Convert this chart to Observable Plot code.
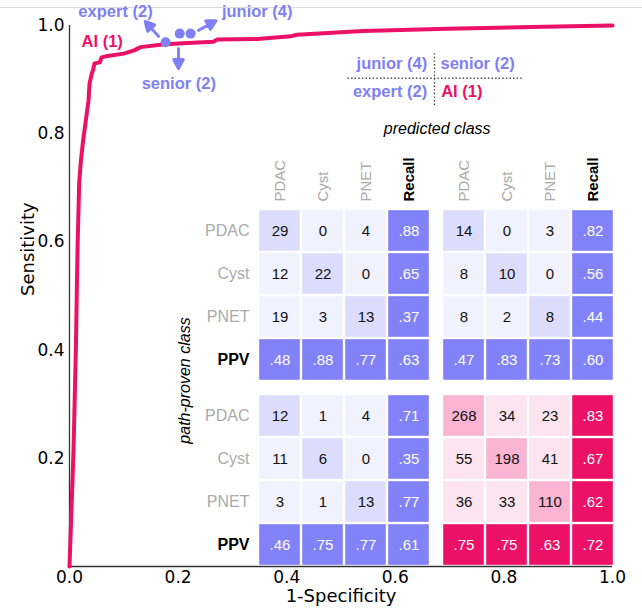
<!DOCTYPE html>
<html><head><meta charset="utf-8">
<script src="https://cdn.jsdelivr.net/npm/d3@7"></script>
<script src="https://cdn.jsdelivr.net/npm/@observablehq/plot@0.6"></script>
<style>
html,body{margin:0;padding:0;background:#fff;}
#wrap{position:relative;width:642px;height:616px;overflow:hidden;}
#wrap svg{position:absolute;left:0;top:0;}
#topline{position:absolute;left:0;top:7px;width:642px;height:0;border-top:1px solid #dadada;}
</style></head>
<body><div id="wrap"><div id="topline"></div></div>
<script>
// ---------- data ----------
const rowLabels = ["PDAC", "Cyst", "PNET", "PPV"];
const colLabels = ["PDAC", "Cyst", "PNET", "Recall"];
const groupNames = ["junior (4)", "senior (2)", "expert (2)", "AI (1)"];

const juniorCounts = [[29, 0, 4], [12, 22, 0], [19, 3, 13]];
const juniorRecall = [".88", ".65", ".37"];
const juniorPPV = [".48", ".88", ".77"];
const juniorAcc = ".63";

const seniorCounts = [[14, 0, 3], [8, 10, 0], [8, 2, 8]];
const seniorRecall = [".82", ".56", ".44"];
const seniorPPV = [".47", ".83", ".73"];
const seniorAcc = ".60";

const expertCounts = [[12, 1, 4], [11, 6, 0], [3, 1, 13]];
const expertRecall = [".71", ".35", ".77"];
const expertPPV = [".46", ".75", ".77"];
const expertAcc = ".61";

const aiCounts = [[268, 34, 23], [55, 198, 41], [36, 33, 110]];
const aiRecall = [".83", ".67", ".62"];
const aiPPV = [".75", ".75", ".63"];
const aiAcc = ".72";

// ROC curve of the AI (1-specificity, sensitivity)
const rocFPR = [0, 0.0074, 0.0117, 0.0147, 0.0178, 0.021, 0.025, 0.030, 0.035, 0.037, 0.041, 0.044, 0.046, 0.056, 0.059, 0.067, 0.100, 0.119, 0.131, 0.171, 0.208, 0.265, 0.272, 0.346, 0.407, 0.419, 0.541, 0.696, 0.849, 1.0];
const rocTPR = [0, 0.214, 0.400, 0.584, 0.708, 0.750, 0.787, 0.824, 0.861, 0.893, 0.911, 0.920, 0.930, 0.932, 0.941, 0.943, 0.948, 0.954, 0.960, 0.965, 0.967, 0.970, 0.974, 0.975, 0.980, 0.983, 0.990, 0.994, 0.997, 1.0];

// reader operating points
const readerNames = ["expert (2)", "senior (2)", "junior (4)"];
const readerFPR = [0.177, 0.203, 0.223];
const readerTPR = [0.969, 0.985, 0.985];

const xTicks = [0, 0.2, 0.4, 0.6, 0.8, 1.0];
const yTicks = [0.2, 0.4, 0.6, 0.8, 1.0];

// ---------- styles ----------
const blue = "#8080F6";
const pink = "#EC1166";
const palette = {
  reader: {diag: "#DCDCFC", off: "#F2F2FE", sum: "#8181F8"},
  ai: {diag: "#F9B4D2", off: "#FDE4EE", sum: "#EC1166"}
};
const sans = "'Liberation Sans', Arial, Helvetica, sans-serif";

// ---------- tables ----------
const matrices = [
  {name: groupNames[0], fx: 0, fy: 0, ai: false, counts: juniorCounts, recall: juniorRecall, ppv: juniorPPV, acc: juniorAcc},
  {name: groupNames[1], fx: 1, fy: 0, ai: false, counts: seniorCounts, recall: seniorRecall, ppv: seniorPPV, acc: seniorAcc},
  {name: groupNames[2], fx: 0, fy: 1, ai: false, counts: expertCounts, recall: expertRecall, ppv: expertPPV, acc: expertAcc},
  {name: groupNames[3], fx: 1, fy: 1, ai: true, counts: aiCounts, recall: aiRecall, ppv: aiPPV, acc: aiAcc}
];
const cells = [];
for (const m of matrices) {
  const base = {fx: m.fx, fy: m.fy, ai: m.ai};
  m.counts.forEach((r, i) => r.forEach((v, j) =>
    cells.push({...base, row: rowLabels[i], col: colLabels[j], label: String(v), kind: i === j ? "diag" : "off"})));
  m.recall.forEach((v, i) => cells.push({...base, row: rowLabels[i], col: "Recall", label: v, kind: "sum"}));
  m.ppv.forEach((v, j) => cells.push({...base, row: "PPV", col: colLabels[j], label: v, kind: "sum"}));
  cells.push({...base, row: "PPV", col: "Recall", label: m.acc, kind: "sum"});
}
const rocData = rocFPR.map((x, i) => ({x, y: rocTPR[i]}));
const readers = readerNames.map((name, i) => ({name, x: readerFPR[i], y: readerTPR[i]}));

// annotations (data coordinates of the ROC frame)
const arrows = [
  {x: 0.164, y: 0.980, rotate: -42},
  {x: 0.2007, y: 0.9575, rotate: 180},
  {x: 0.2376, y: 0.991, rotate: 61}
];
const pointLabels = [
  {x: 0.0847, y: 1.0246, text: "expert (2)", color: blue},
  {x: 0.3457, y: 1.0246, text: "junior (4)", color: blue},
  {x: 0.2013, y: 0.8922, text: "senior (2)", color: blue},
  {x: 0.0602, y: 0.9691, text: "AI (1)", color: pink}
];
const keyLeft = [
  {x: 0.6587, y: 0.9292, text: "junior (4)", color: blue},
  {x: 0.6587, y: 0.8767, text: "expert (2)", color: blue}
];
const keyRight = [
  {x: 0.6832, y: 0.9292, text: "senior (2)", color: blue},
  {x: 0.6845, y: 0.8767, text: "AI (1)", color: pink}
];

const filledArrow = {
  draw(context, l) {
    const h = 9, w = 4.8;
    context.moveTo(0, 0);
    context.lineTo(0, -(l - h));
    context.moveTo(-w, -(l - h));
    context.lineTo(0, -l);
    context.lineTo(w, -(l - h));
    context.closePath();
  }
};

// ---------- ROC plot ----------
const roc = Plot.plot({
  width: 642, height: 616,
  marginLeft: 69, marginRight: 30, marginTop: 25, marginBottom: 50,
  style: {fontFamily: "'DejaVu Sans', sans-serif", background: "transparent", overflow: "visible", color: "#000"},
  x: {domain: [0, 1], axis: null},
  y: {domain: [0, 1], axis: null},
  color: {type: "identity"},
  marks: [
    Plot.axisX({ticks: xTicks, tickFormat: d3.format(".1f"), tickSize: 0, tickPadding: 4, fontSize: 17, label: null, fill: "#000"}),
    Plot.axisY({ticks: yTicks, tickFormat: d3.format(".1f"), tickSize: 0, tickPadding: 5, fontSize: 17, label: null, fill: "#000"}),
    Plot.ruleX([0], {stroke: "#333", strokeWidth: 1.3}),
    Plot.ruleY([0], {stroke: "#333", strokeWidth: 1.3}),
    Plot.text(["Sensitivity"], {text: d => d, frameAnchor: "left", dx: -41, rotate: -90, fontSize: 18, fill: "#000"}),
    Plot.text(["1-Specificity"], {text: d => d, frameAnchor: "bottom", dy: 35, fontSize: 18, fill: "#000"}),
    Plot.line(rocData, {x: "x", y: "y", stroke: pink, strokeWidth: 4, strokeLinejoin: "round"}),
    Plot.dot(readers, {x: "x", y: "y", r: 5, fill: blue}),
    Plot.vector(arrows, {x: "x", y: "y", rotate: "rotate", length: 20, anchor: "start", shape: filledArrow, stroke: blue, fill: blue, strokeWidth: 3}),
    Plot.text(pointLabels, {x: "x", y: "y", text: "text", fill: "color", fontFamily: sans, fontWeight: "bold", fontSize: 16.5}),
    Plot.text(keyLeft, {x: "x", y: "y", text: "text", fill: "color", textAnchor: "end", fontFamily: sans, fontWeight: "bold", fontSize: 16.5}),
    Plot.text(keyRight, {x: "x", y: "y", text: "text", fill: "color", textAnchor: "start", fontFamily: sans, fontWeight: "bold", fontSize: 16.5}),
    Plot.link([{x1: 0.512, x2: 0.836, y1: 0.9026, y2: 0.9026}, {x1: 0.6722, x2: 0.6722, y1: 0.9488, y2: 0.8521}],
      {x1: "x1", x2: "x2", y1: "y1", y2: "y2", stroke: "#444", strokeWidth: 1.4, strokeDasharray: "1.4,2.2"}),
    Plot.text(["predicted class"], {text: d => d, x: 0.6771, y: 0.809, fontFamily: sans, fontStyle: "italic", fontSize: 16, fill: "#000"}),
    Plot.text(["path-proven class"], {text: d => d, x: 0.2118, y: 0.3438, rotate: -90, fontFamily: sans, fontStyle: "italic", fontSize: 16, fill: "#000"})
  ]
});

// ---------- confusion matrices ----------
const fillOf = d => palette[d.ai ? "ai" : "reader"][d.kind];
const heat = Plot.plot({
  width: 642, height: 616,
  marginLeft: 256, marginRight: 28, marginTop: 207, marginBottom: 49,
  style: {fontFamily: sans, background: "transparent", overflow: "visible"},
  fx: {domain: [0, 1], axis: null, paddingInner: 0.06, paddingOuter: 0},
  fy: {domain: [0, 1], axis: null, paddingInner: 0.06, paddingOuter: 0},
  x: {domain: colLabels, paddingInner: 0, paddingOuter: 0, axis: null},
  y: {domain: rowLabels, paddingInner: 0, paddingOuter: 0, axis: null},
  color: {type: "identity"},
  marks: [
    Plot.cell(cells, {fx: "fx", fy: "fy", x: "col", y: "row", fill: fillOf, inset: 1.2}),
    Plot.text(cells, {fx: "fx", fy: "fy", x: "col", y: "row", text: "label",
      fill: d => d.kind === "sum" ? "#fff" : "#111",
      fontWeight: d => d.kind === "sum" ? "bold" : "normal", fontSize: 15}),
    Plot.axisX({anchor: "top", ticks: ["PDAC", "Cyst", "PNET"], tickRotate: -90, textAnchor: "start", lineAnchor: "middle", tickSize: 0, tickPadding: 7, fill: "#aaa", fontSize: 15, label: null}),
    Plot.axisX({anchor: "top", ticks: ["Recall"], tickRotate: -90, textAnchor: "start", lineAnchor: "middle", tickSize: 0, tickPadding: 7, fill: "#000", fontWeight: "bold", fontSize: 15, label: null}),
    Plot.axisY({anchor: "left", ticks: ["PDAC", "Cyst", "PNET"], tickSize: 0, tickPadding: 8, fill: "#aaa", fontSize: 16, label: null}),
    Plot.axisY({anchor: "left", ticks: ["PPV"], tickSize: 0, tickPadding: 8, fill: "#000", fontWeight: "bold", fontSize: 16, label: null})
  ]
});

const wrap = document.getElementById("wrap");
wrap.appendChild(roc);
wrap.appendChild(heat);
</script>
</body></html>
